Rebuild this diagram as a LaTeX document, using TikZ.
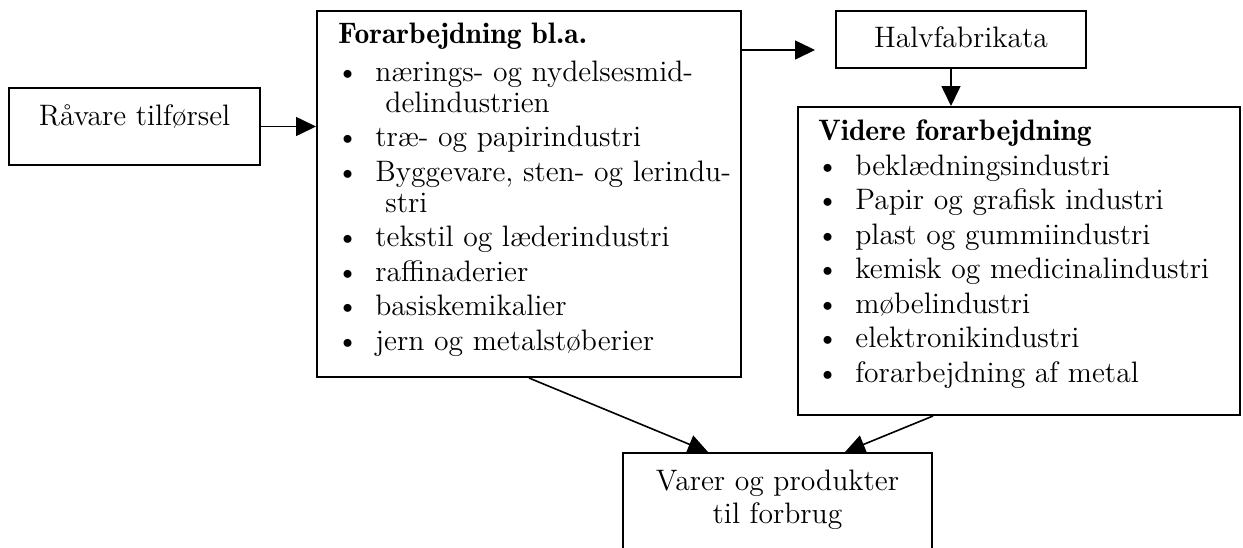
\documentclass[tikz,border=0pt]{standalone}
\usetikzlibrary{arrows.meta}

\newcommand{\bul}[1]{\makebox[18.5pt][l]{\hspace{-1pt}\textbullet}#1}
\newcommand{\bulcont}[1]{\hspace*{23.5pt}#1}

\begin{document}
\begin{tikzpicture}[x=0.5pt, y=-0.5pt,
    font=\fontsize{14.8pt}{15.5pt}\selectfont,
    frame/.style={draw, line width=1pt, inner sep=0pt, anchor=north west},
    onebox/.style={draw, line width=1pt, inner sep=0pt, anchor=base, align=center},
    flow/.style={line width=0.8pt, -{Triangle[length=10pt, width=9.5pt]}}]
  \clip (0,0) rectangle (1243,547);
  % boxes
  \node (rav) at (134.5,125) [onebox, minimum width=125.5pt, text height=18.5pt, text depth=20pt] {Råvare tilførsel};
  \node (forarb) at (316,10) [frame, minimum width=212pt, minimum height=183pt] {};
  \node (halv) at (961,47) [onebox, minimum width=125pt, text height=18pt, text depth=10.5pt] {Halvfabrikata};
  \node (vid) at (797,106) [frame, minimum width=221pt, minimum height=154pt] {};
  \node (vare) at (777.5,523) [onebox, minimum width=154.5pt, text height=35pt, text depth=30pt] {Varer og produkter\\[1pt]til forbrug};
  % lists (placed by the last line)
  \node (forarbtxt) at (338,350) [anchor=base west, align=left, inner sep=0pt] {%
    {\fontseries{b}\selectfont Forarbejdning bl.a.}\\[3.5pt]
    \bul{nærings- og nydelsesmid-}\\
    \bulcont{delindustrien}\\[1.75pt]
    \bul{træ- og papirindustri}\\[1.75pt]
    \bul{Byggevare, sten- og lerindu-}\\
    \bulcont{stri}\\[1.75pt]
    \bul{tekstil og læderindustri}\\[1.75pt]
    \bul{raffinaderier}\\[1.75pt]
    \bul{basiskemikalier}\\[1.75pt]
    \bul{jern og metalstøberier}};
  \node (vidtxt) at (818,382) [anchor=base west, align=left, inner sep=0pt] {%
    {\fontseries{b}\selectfont Videre forarbejdning}\\[2pt]
    \bul{beklædningsindustri}\\[1.75pt]
    \bul{Papir og grafisk industri}\\[1.75pt]
    \bul{plast og gummiindustri}\\[1.75pt]
    \bul{kemisk og medicinalindustri}\\[1.75pt]
    \bul{møbelindustri}\\[1.75pt]
    \bul{elektronikindustri}\\[1.75pt]
    \bul{forarbejdning af metal}};
  % connectors
  \coordinate (halvin) at (815,50);
  \coordinate (halvout) at ([xshift=-5pt]halv.south);
  \draw[flow] (rav.east) -- (rav.east -| forarb.west);
  \draw[flow] (forarb.east |- halvin) -- (halvin);
  \draw[flow] (halvout) -- (halvout |- vid.north);
  \draw[flow] (forarb.south) -- ([xshift=-34.75pt]vare.north);
  \draw[flow] ([xshift=-43pt]vid.south) -- ([xshift=33.75pt]vare.north);
\end{tikzpicture}
\end{document}
